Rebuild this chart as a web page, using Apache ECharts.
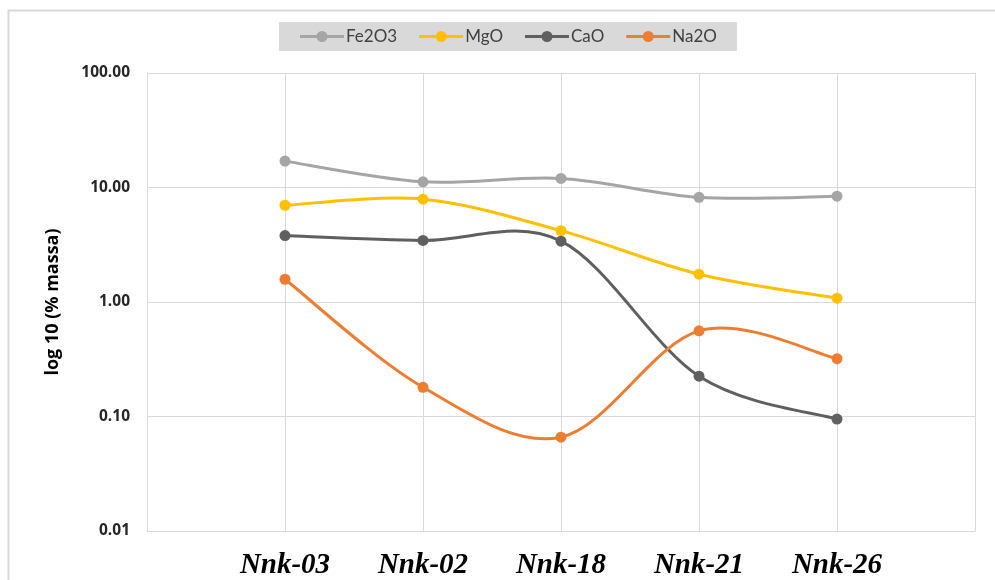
<!DOCTYPE html>
<html>
<head>
<meta charset="utf-8">
<script src="https://cdn.jsdelivr.net/npm/echarts@6/dist/echarts.min.js"></script>
<style>
  html, body { margin: 0; padding: 0; background: #ffffff; }
  #chart { width: 995px; height: 580px; }
</style>
</head>
<body>
<div id="chart"></div>
<script>
// Sample names (blank slots pad the axis on both sides)
const categories = ['', 'Nnk-03', 'Nnk-02', 'Nnk-18', 'Nnk-21', 'Nnk-26', ''];

// Oxide contents, % by mass
const fe2o3 = [null, 17.0, 11.2, 12.0, 8.2, 8.4, null];
const mgo   = [null, 7.0, 7.9, 4.2, 1.75, 1.08, null];
const cao   = [null, 3.8, 3.45, 3.4, 0.225, 0.095, null];
const na2o  = [null, 1.58, 0.18, 0.066, 0.56, 0.32, null];

const seriesNames  = ['Fe2O3', 'MgO', 'CaO', 'Na2O'];
const seriesData   = [fe2o3, mgo, cao, na2o];
const seriesColors = ['#A5A5A5', '#FFC000', '#5F5F5F', '#ED7D31'];

// Cardinal-spline curve through the points (tangent = chord of neighbours / 6),
// positions come from the chart's own coordinate system.
function curveRenderer(values, color) {
  return function (params, api) {
    if (params.dataIndex !== 0) return null;
    const pts = [];
    values.forEach((v, i) => {
      if (v != null) pts.push(api.coord([i, v]));
    });
    if (pts.length < 2) return null;
    let d = 'M' + pts[0][0] + ' ' + pts[0][1];
    for (let i = 0; i < pts.length - 1; i++) {
      const p0 = pts[Math.max(i - 1, 0)];
      const p1 = pts[i];
      const p2 = pts[i + 1];
      const p3 = pts[Math.min(i + 2, pts.length - 1)];
      const c1x = p1[0] + (p2[0] - p0[0]) / 6;
      const c1y = p1[1] + (p2[1] - p0[1]) / 6;
      const c2x = p2[0] - (p3[0] - p1[0]) / 6;
      const c2y = p2[1] - (p3[1] - p1[1]) / 6;
      d += ' C' + c1x + ' ' + c1y + ' ' + c2x + ' ' + c2y + ' ' + p2[0] + ' ' + p2[1];
    }
    return {
      type: 'path',
      shape: { pathData: d },
      style: { fill: 'none', stroke: color, lineWidth: 3, lineJoin: 'round', lineCap: 'round' },
      silent: true
    };
  };
}

// Legend glyph: a short stroke with a dot in the middle
const legendIcon = 'path://M0 4.6 L44 4.6 L44 7.4 L0 7.4 Z M27.5 6 A5.5 5.5 0 1 1 16.5 6 A5.5 5.5 0 1 1 27.5 6 Z';

const chart = echarts.init(document.getElementById('chart'), null, { renderer: 'canvas' });

const lineSeries = seriesNames.map((name, i) => ({
  name: name,
  type: 'line',
  data: seriesData[i],
  symbol: 'circle',
  symbolSize: 11,
  showSymbol: true,
  lineStyle: { color: seriesColors[i], width: 3, opacity: 0 },
  itemStyle: { color: seriesColors[i] },
  connectNulls: false,
  z: 3
}));

const curveSeries = seriesNames.map((name, i) => ({
  name: name,
  type: 'custom',
  data: seriesData[i].map((v, j) => [j, v == null ? 1 : v]),
  renderItem: curveRenderer(seriesData[i], seriesColors[i]),
  encode: { x: 0, y: 1 },
  z: 2
}));

chart.setOption({
  animation: false,
  backgroundColor: '#ffffff',
  graphic: [{
    type: 'rect',
    shape: { x: 8.5, y: 10.5, width: 1000, height: 600 },
    style: { fill: 'none', stroke: '#D9D9D9', lineWidth: 2 },
    silent: true,
    z: -1
  }],
  legend: {
    data: seriesNames.map((name, i) => ({
      name: name,
      icon: legendIcon,
      itemStyle: { color: seriesColors[i], borderWidth: 0 }
    })),
    left: 279,
    top: 22,
    backgroundColor: '#D9D9D9',
    padding: [6, 20, 6, 21],
    itemGap: 22,
    itemWidth: 44,
    itemHeight: 12,
    textStyle: { fontFamily: 'Lato', fontSize: 17, color: '#404040', padding: [0, 0, 0, -3] }
  },
  grid: { left: 147, right: 20, top: 73, bottom: 49, containLabel: false },
  xAxis: {
    type: 'category',
    data: categories,
    boundaryGap: false,
    axisLine: { show: true, lineStyle: { color: '#D9D9D9', width: 1 } },
    axisTick: { show: false },
    splitLine: { show: true, lineStyle: { color: '#D9D9D9', width: 1 } },
    axisLabel: {
      interval: 0,
      margin: 20,
      fontFamily: 'Liberation Serif',
      fontWeight: 'bold',
      fontStyle: 'italic',
      fontSize: 29,
      color: '#000000'
    }
  },
  yAxis: {
    type: 'log',
    logBase: 10,
    min: 0.01,
    max: 100,
    name: 'log 10 (% massa)',
    nameLocation: 'middle',
    nameGap: 85,
    nameRotate: 90,
    nameTextStyle: { fontFamily: 'Open Sans', fontWeight: 'bold', fontSize: 18, color: '#000000' },
    axisLine: { show: true, lineStyle: { color: '#D9D9D9', width: 1 } },
    axisTick: { show: false },
    splitLine: { show: true, lineStyle: { color: '#D9D9D9', width: 1 } },
    axisLabel: {
      margin: 17,
      fontFamily: 'Open Sans',
      fontWeight: 'bold',
      fontSize: 15.5,
      color: '#262626',
      formatter: v => Number(v).toFixed(2)
    }
  },
  series: lineSeries.concat(curveSeries)
});
</script>
</body>
</html>
